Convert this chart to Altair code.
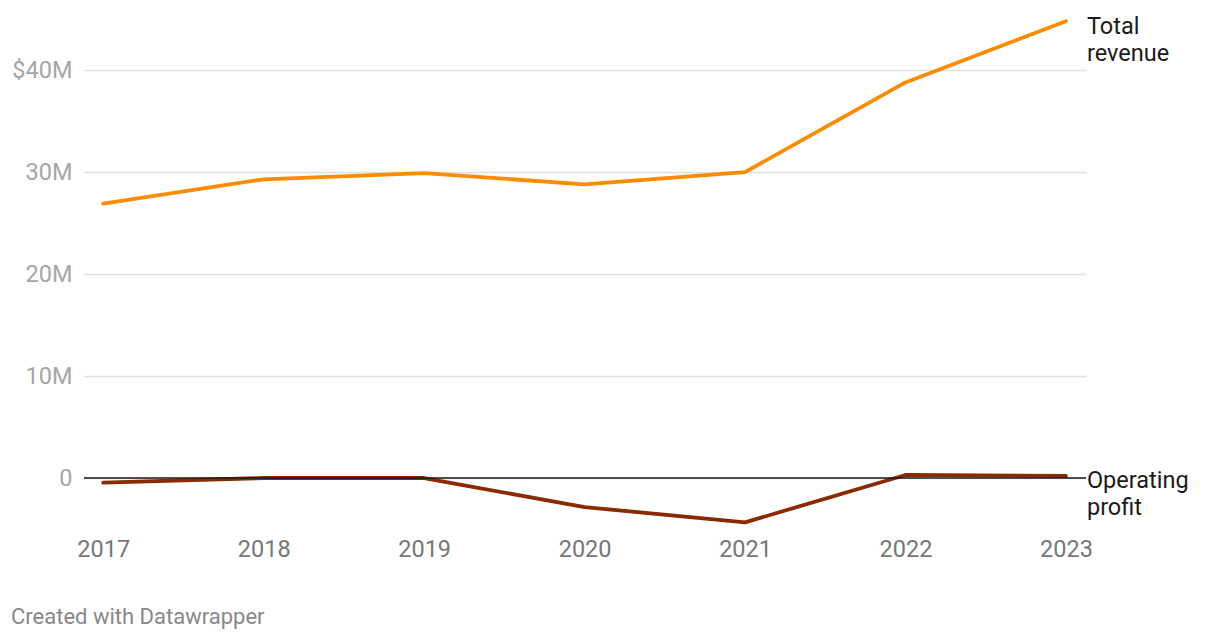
import altair as alt
import pandas as pd

years = [2017, 2018, 2019, 2020, 2021, 2022, 2023]
revenue = [26.9, 29.3, 29.9, 28.8, 30.0, 38.8, 44.8]
profit = [-0.45, 0.0, 0.0, -2.85, -4.35, 0.3, 0.2]
series_names = ["Total revenue", "Operating profit"]
end_labels = ["Total\nrevenue", "Operating\nprofit"]
colors = ["#fb8c00", "#8a2a00"]
y_ticks = [0, 10, 20, 30, 40]

rows = []
for name, vals in zip(series_names, [revenue, profit]):
    for yr, v in zip(years, vals):
        rows.append({"year": yr, "value": v, "series": name})
df = pd.DataFrame(rows)

lab = pd.DataFrame({
    "year": [years[-1], years[-1]],
    "value": [revenue[-1], profit[-1]],
    "series": series_names,
    "label": end_labels,
})

FONT = "Roboto"
FS = 23.5

x = alt.X("year:Q",
          scale=alt.Scale(domain=[2016.88, 2023.125], nice=False, zero=False),
          axis=alt.Axis(values=years, format="d", title=None, grid=False, domain=False,
                        ticks=False, labelFontSize=FS, labelColor="#777777", labelFont=FONT,
                        labelPadding=8, labelFlush=False))
y = alt.Y("value:Q",
          scale=alt.Scale(domain=[-5, 46], nice=False, zero=False),
          axis=alt.Axis(values=y_ticks, title=None, domain=False, ticks=False,
                        labelFontSize=FS, labelColor="#a6a6a6", labelFont=FONT,
                        labelPadding=12,
                        labelExpr="datum.value == 40 ? '$40M' : datum.value == 0 ? '0' : datum.value + 'M'",
                        grid=True, gridColor="#e0e0e0", gridWidth=1.5))

color = alt.Color("series:N", scale=alt.Scale(domain=series_names, range=colors), legend=None)

lines = alt.Chart(df).mark_line(strokeWidth=3.8, strokeJoin="round", strokeCap="round").encode(
    x=x, y=y, color=color)

zero = alt.Chart(pd.DataFrame({"z": [0]})).mark_rule(color="#1a1a1a", strokeWidth=1.5).encode(
    y=alt.datum(0))

labels = alt.Chart(lab).mark_text(align="left", baseline="alphabetic", dx=21, dy=12.5,
                                  fontSize=FS, font=FONT, color="#1a1a1a", lineHeight=27,
                                  lineBreak="\n").encode(
    x="year:Q", y="value:Q", text="label:N")

footer = alt.Chart(pd.DataFrame({"t": ["Created with Datawrapper"]})).mark_text(
    align="left", baseline="alphabetic", fontSize=22, font=FONT, color="#888888").encode(
    x=alt.value(-73), y=alt.value(615), text="t:N")

chart = alt.layer(lines, zero, labels, footer).properties(
    width=1002, height=520,
    background="white",
    autosize=alt.AutoSizeParams(type="none"),
    padding={"left": 76, "top": 1, "right": 126, "bottom": 100},
).configure_view(stroke=None)

chart.save("out.html", embed_options={"renderer": "svg", "actions": False})
